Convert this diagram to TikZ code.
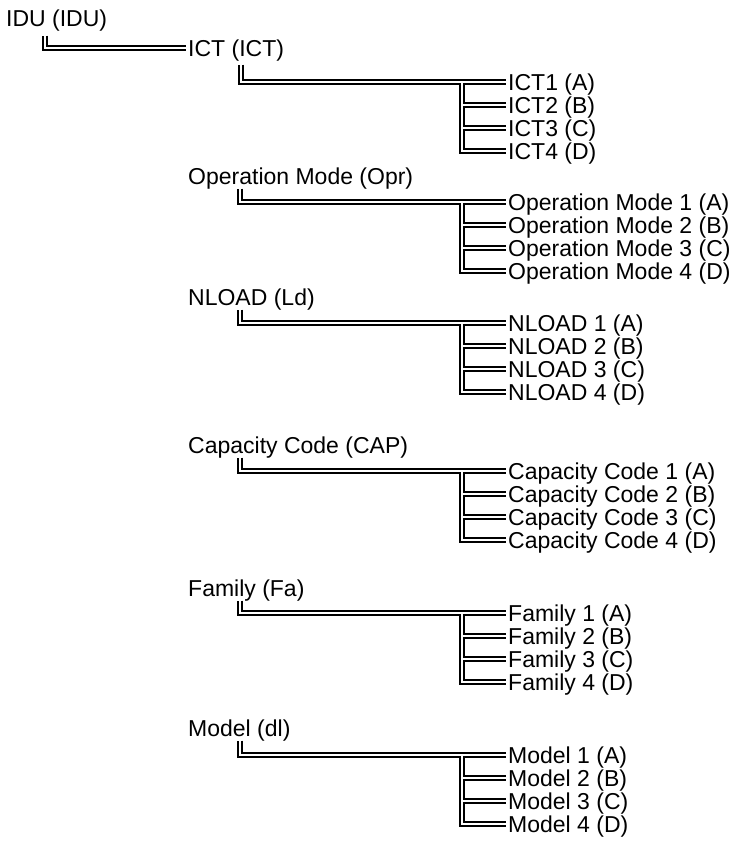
\documentclass[tikz,border=0pt]{standalone}
\usepackage{fontspec}
\setmainfont{Liberation Sans}
\usetikzlibrary{calc}

\begin{document}
\begin{tikzpicture}[
      x=1pt,y=-1pt,
      font=\fontsize{23pt}{23pt}\selectfont,
      lbl/.style={anchor=west,inner xsep=2pt,inner ysep=0pt,text depth=0pt},
      link/.style={draw=black,double=white,line width=1.8pt,double distance=2pt}
    ]
      \useasboundingbox (0,0) rectangle (746,843);
      % top level
      \node[lbl] (idu) at (4,18) {IDU (IDU)};
      \node[lbl] (ict) at (186,48) {ICT (ICT)};
      \draw[link] ([xshift=41pt,yshift=-9pt]idu.south west) |- (ict.west);

      % ICT
      \node[lbl] (ict1) at (506,82) {ICT1 (A)};
      \node[lbl] (ict2) at (506,105) {ICT2 (B)};
      \node[lbl] (ict3) at (506,128) {ICT3 (C)};
      \node[lbl] (ict4) at (506,151) {ICT4 (D)};
      \coordinate (ictb) at ($(ict1.west)+(-44,0)$);
      \draw[link] ([xshift=55pt,yshift=-8pt]ict.south west) |- (ict1.west)
        (ictb) |- (ict2.west) (ictb) |- (ict3.west) (ictb) |- (ict4.west);

      % Operation Mode
      \node[lbl] (opr) at (186,176) {Operation Mode (Opr)};
      \node[lbl] (opr1) at (506,202) {Operation Mode 1 (A)};
      \node[lbl] (opr2) at (506,225) {Operation Mode 2 (B)};
      \node[lbl] (opr3) at (506,248) {Operation Mode 3 (C)};
      \node[lbl] (opr4) at (506,271) {Operation Mode 4 (D)};
      \coordinate (oprb) at ($(opr1.west)+(-44,0)$);
      \draw[link] ([xshift=54pt,yshift=-4pt]opr.south west) |- (opr1.west)
        (oprb) |- (opr2.west) (oprb) |- (opr3.west) (oprb) |- (opr4.west);

      % NLOAD
      \node[lbl] (ld) at (186,297) {NLOAD (Ld)};
      \node[lbl] (ld1) at (506,323) {NLOAD 1 (A)};
      \node[lbl] (ld2) at (506,346) {NLOAD 2 (B)};
      \node[lbl] (ld3) at (506,369) {NLOAD 3 (C)};
      \node[lbl] (ld4) at (506,392) {NLOAD 4 (D)};
      \coordinate (ldb) at ($(ld1.west)+(-44,0)$);
      \draw[link] ([xshift=54pt,yshift=-4pt]ld.south west) |- (ld1.west)
        (ldb) |- (ld2.west) (ldb) |- (ld3.west) (ldb) |- (ld4.west);

      % Capacity Code
      \node[lbl] (cap) at (186,445) {Capacity Code (CAP)};
      \node[lbl] (cap1) at (506,471) {Capacity Code 1 (A)};
      \node[lbl] (cap2) at (506,494) {Capacity Code 2 (B)};
      \node[lbl] (cap3) at (506,517) {Capacity Code 3 (C)};
      \node[lbl] (cap4) at (506,540) {Capacity Code 4 (D)};
      \coordinate (capb) at ($(cap1.west)+(-44,0)$);
      \draw[link] ([xshift=54pt,yshift=-4pt]cap.south west) |- (cap1.west)
        (capb) |- (cap2.west) (capb) |- (cap3.west) (capb) |- (cap4.west);

      % Family
      \node[lbl] (fa) at (186,588) {Family (Fa)};
      \node[lbl] (fa1) at (506,613) {Family 1 (A)};
      \node[lbl] (fa2) at (506,636) {Family 2 (B)};
      \node[lbl] (fa3) at (506,659) {Family 3 (C)};
      \node[lbl] (fa4) at (506,682) {Family 4 (D)};
      \coordinate (fab) at ($(fa1.west)+(-44,0)$);
      \draw[link] ([xshift=54pt,yshift=-4pt]fa.south west) |- (fa1.west)
        (fab) |- (fa2.west) (fab) |- (fa3.west) (fab) |- (fa4.west);

      % Model
      \node[lbl] (dl) at (186,728) {Model (dl)};
      \node[lbl] (dl1) at (506,755) {Model 1 (A)};
      \node[lbl] (dl2) at (506,778) {Model 2 (B)};
      \node[lbl] (dl3) at (506,801) {Model 3 (C)};
      \node[lbl] (dl4) at (506,824) {Model 4 (D)};
      \coordinate (dlb) at ($(dl1.west)+(-44,0)$);
      \draw[link] ([xshift=54pt,yshift=-4pt]dl.south west) |- (dl1.west)
        (dlb) |- (dl2.west) (dlb) |- (dl3.west) (dlb) |- (dl4.west);
    \end{tikzpicture}
\end{document}
